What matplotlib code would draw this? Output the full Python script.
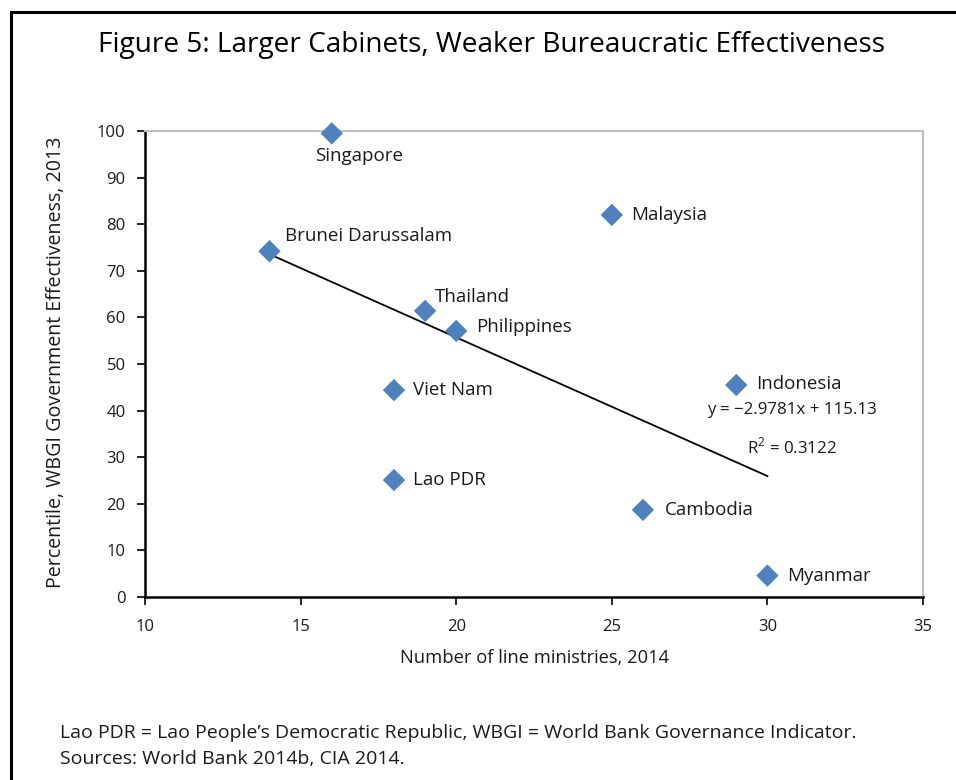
import numpy as np
import matplotlib
matplotlib.use("Agg")
import matplotlib.pyplot as plt
from matplotlib.patches import Rectangle

plt.rcParams['font.family'] = ['Open Sans', 'DejaVu Sans']
plt.rcParams['mathtext.fontset'] = 'custom'
plt.rcParams['mathtext.rm'] = 'Open Sans'

countries = ["Singapore", "Brunei Darussalam", "Malaysia", "Thailand", "Philippines",
             "Viet Nam", "Indonesia", "Lao PDR", "Cambodia", "Myanmar"]
ministries = [16, 14, 25, 19, 20, 18, 29, 18, 26, 30]
effectiveness = [99.5, 74.2, 82.0, 61.4, 57.1, 44.4, 45.5, 25.1, 18.7, 4.6]

eq_text = "y = \u22122.9781x + 115.13"
r2_text = "R$^\\mathrm{2}$ = 0.3122"

# label offsets (points) and alignment
offsets = {
    "Singapore": (20, -16, "center"),
    "Brunei Darussalam": (11, 11, "left"),
    "Malaysia": (14, 0, "left"),
    "Thailand": (7, 10, "left"),
    "Philippines": (14, 3, "left"),
    "Viet Nam": (14, 0, "left"),
    "Indonesia": (14, 1, "left"),
    "Lao PDR": (14, 0, "left"),
    "Cambodia": (16, 0, "left"),
    "Myanmar": (14, 0, "left"),
}

fig = plt.figure(figsize=(9.56, 7.8), dpi=100)
ax = fig.add_axes([0.1517, 0.2346, 0.8138, 0.5974])

# linear trend
coef = np.polyfit(ministries, effectiveness, 1)
xs = np.array([min(ministries), max(ministries)])
ax.plot(xs, np.polyval(coef, xs), color="black", lw=1.3, zorder=2)

ax.scatter(ministries, effectiveness, marker="D", s=130, color="#4F81BD",
           edgecolors="none", zorder=3, clip_on=False)

for name, x, y in zip(countries, ministries, effectiveness):
    dx, dy, ha = offsets[name]
    ax.annotate(name, (x, y), xytext=(dx, dy), textcoords="offset points",
                ha=ha, va="center", fontsize=13.5, color="#1a1a1a")

ax.text(30.8, 40.2, eq_text, ha="center", va="center", fontsize=12.2, color="#1a1a1a")
ax.text(30.8, 32.2, r2_text, ha="center", va="center", fontsize=12.2, color="#1a1a1a")

ax.set_xlim(10, 35)
ax.set_ylim(0, 100)
ax.set_xticks(range(10, 36, 5))
ax.set_yticks(range(0, 101, 10))
ax.tick_params(direction="out", length=6, width=1.2, labelsize=12, colors="black",
               labelcolor="#1a1a1a")
ax.tick_params(axis="x", pad=10)
ax.tick_params(axis="y", pad=8)
for s in ["top", "right"]:
    ax.spines[s].set_color("#bfbfbf")
    ax.spines[s].set_linewidth(1.5)
for s in ["left", "bottom"]:
    ax.spines[s].set_color("black")
    ax.spines[s].set_linewidth(1.8)

fig.text(0.5586, 0.1564, "Number of line ministries, 2014", ha="center", va="center",
         fontsize=13.2, color="#1a1a1a")
fig.text(0.0586, 0.536, "Percentile, WBGI Government Effectiveness, 2013", ha="center",
         va="center", rotation=90, fontsize=14.1, color="#1a1a1a")

fig.text(0.5136, 0.942, "Figure 5: Larger Cabinets, Weaker Bureaucratic Effectiveness",
         ha="center", va="center", fontsize=20.2, color="black")

fig.text(0.0628, 0.0603,
         "Lao PDR = Lao People\u2019s Democratic Republic, WBGI = World Bank Governance Indicator.",
         ha="left", va="center", fontsize=14, color="#1a1a1a")
fig.text(0.0628, 0.0269, "Sources: World Bank 2014b, CIA 2014.", ha="left", va="center",
         fontsize=14, color="#1a1a1a")

fig.patches.append(Rectangle((11 / 956, -0.2), 1.5, 1.2 - 12 / 780, transform=fig.transFigure,
                             fill=False, edgecolor="black", lw=2.2))

fig.savefig("out.png", dpi=100)
